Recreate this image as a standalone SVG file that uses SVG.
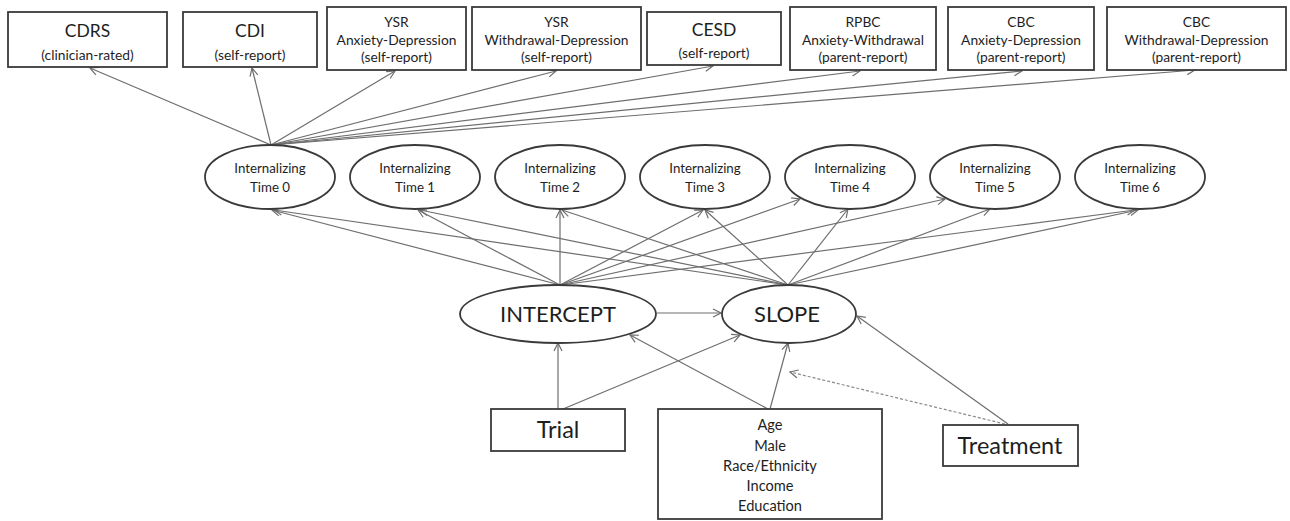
<svg xmlns="http://www.w3.org/2000/svg" width="1290" height="521" viewBox="0 0 1290 521">
<style>
text{font-family:Lato,"Liberation Sans",sans-serif;fill:#1e1e1e;text-anchor:middle}
.box{fill:#fff;stroke:#3a3a3a;stroke-width:1.8}
.ell{fill:#fff;stroke:#3a3a3a;stroke-width:1.8}
.t17{font-size:17.5px}
.t13{font-size:13.8px}
.t12{font-size:13.3px}
.big{font-size:22px}
.big2{font-size:23.5px}
.demo{font-size:14.6px}
#connectors line{stroke:#6e6e6e;stroke-width:1.2;fill:none;marker-end:url(#arr)}
#connectors line.dash{stroke-dasharray:3 2;stroke:#8a8a8a}
</style>
<defs>
<marker id="arr" markerUnits="userSpaceOnUse" markerWidth="10" markerHeight="10" viewBox="0 0 10 10" refX="9" refY="5" orient="auto">
<path d="M1,1 L9,5 L1,9" fill="none" stroke="#6e6e6e" stroke-width="1.2"/>
</marker>
</defs>
<rect width="1290" height="521" fill="#fff"/>

<g id="connectors">
<line x1="271" y1="145" x2="90" y2="68"/>
<line x1="271" y1="145" x2="252" y2="68"/>
<line x1="271" y1="145" x2="395" y2="71"/>
<line x1="271" y1="145" x2="556" y2="71"/>
<line x1="271" y1="145" x2="713" y2="66"/>
<line x1="271" y1="145" x2="860" y2="71"/>
<line x1="271" y1="145" x2="1022" y2="71"/>
<line x1="271" y1="145" x2="1195" y2="70"/>
<line x1="560" y1="285" x2="272" y2="210"/>
<line x1="560" y1="285" x2="418" y2="210"/>
<line x1="560" y1="285" x2="560" y2="210"/>
<line x1="560" y1="285" x2="703" y2="210"/>
<line x1="560" y1="285" x2="800" y2="199"/>
<line x1="560" y1="285" x2="945" y2="199"/>
<line x1="560" y1="285" x2="1135" y2="210"/>
<line x1="788" y1="285" x2="274" y2="210"/>
<line x1="788" y1="285" x2="420" y2="210"/>
<line x1="788" y1="285" x2="562" y2="210"/>
<line x1="788" y1="285" x2="705" y2="210"/>
<line x1="788" y1="285" x2="848" y2="209"/>
<line x1="788" y1="285" x2="990" y2="209"/>
<line x1="788" y1="285" x2="1138" y2="210"/>
<line x1="657" y1="313" x2="721" y2="313"/>
<line x1="558" y1="409" x2="558" y2="343"/>
<line x1="563" y1="409" x2="740" y2="335"/>
<line x1="768" y1="409" x2="630" y2="335"/>
<line x1="770" y1="409" x2="788" y2="343"/>
<line x1="1008" y1="424" x2="857" y2="316"/>
<line class="dash" x1="1005" y1="424" x2="790" y2="372"/>
</g>

<g id="cdrs"><rect class="box" x="8" y="12" width="159" height="55"/><text class="t17" x="87.5" y="37">CDRS</text><text class="t13" x="87.5" y="60">(clinician-rated)</text></g>
<g id="cdi"><rect class="box" x="183" y="12" width="134" height="55"/><text class="t17" x="250" y="37">CDI</text><text class="t13" x="250" y="60">(self-report)</text></g>
<g id="ysr-ad"><rect class="box" x="327" y="7" width="139" height="63"/><text class="t13" x="396.5" y="27">YSR</text><text class="t13" x="396.5" y="45">Anxiety-Depression</text><text class="t13" x="396.5" y="62">(self-report)</text></g>
<g id="ysr-wd"><rect class="box" x="472" y="7" width="169" height="63"/><text class="t13" x="556.5" y="27">YSR</text><text class="t13" x="556.5" y="45">Withdrawal-Depression</text><text class="t13" x="556.5" y="62">(self-report)</text></g>
<g id="cesd"><rect class="box" x="647" y="12" width="134" height="53"/><text class="t17" x="714" y="36">CESD</text><text class="t13" x="714" y="58">(self-report)</text></g>
<g id="rpbc"><rect class="box" x="790" y="7" width="146" height="63"/><text class="t13" x="863" y="27">RPBC</text><text class="t13" x="863" y="45">Anxiety-Withdrawal</text><text class="t13" x="863" y="62">(parent-report)</text></g>
<g id="cbc-ad"><rect class="box" x="948" y="7" width="146" height="63"/><text class="t13" x="1021" y="27">CBC</text><text class="t13" x="1021" y="45">Anxiety-Depression</text><text class="t13" x="1021" y="62">(parent-report)</text></g>
<g id="cbc-wd"><rect class="box" x="1107" y="7" width="179" height="63"/><text class="t13" x="1196.5" y="27">CBC</text><text class="t13" x="1196.5" y="45">Withdrawal-Depression</text><text class="t13" x="1196.5" y="62">(parent-report)</text></g>

<g id="time0"><ellipse class="ell" cx="270" cy="177" rx="65" ry="32"/><text class="t12" x="270" y="173">Internalizing</text><text class="t12" x="270" y="192">Time 0</text></g>
<g id="time1"><ellipse class="ell" cx="415" cy="177" rx="65" ry="32"/><text class="t12" x="415" y="173">Internalizing</text><text class="t12" x="415" y="192">Time 1</text></g>
<g id="time2"><ellipse class="ell" cx="560" cy="177" rx="65" ry="32"/><text class="t12" x="560" y="173">Internalizing</text><text class="t12" x="560" y="192">Time 2</text></g>
<g id="time3"><ellipse class="ell" cx="705" cy="177" rx="65" ry="32"/><text class="t12" x="705" y="173">Internalizing</text><text class="t12" x="705" y="192">Time 3</text></g>
<g id="time4"><ellipse class="ell" cx="850" cy="177" rx="65" ry="32"/><text class="t12" x="850" y="173">Internalizing</text><text class="t12" x="850" y="192">Time 4</text></g>
<g id="time5"><ellipse class="ell" cx="995" cy="177" rx="65" ry="32"/><text class="t12" x="995" y="173">Internalizing</text><text class="t12" x="995" y="192">Time 5</text></g>
<g id="time6"><ellipse class="ell" cx="1140" cy="177" rx="65" ry="32"/><text class="t12" x="1140" y="173">Internalizing</text><text class="t12" x="1140" y="192">Time 6</text></g>

<g id="intercept"><ellipse class="ell" cx="558" cy="314" rx="98" ry="29"/><text class="big" x="558" y="322">INTERCEPT</text></g>
<g id="slope"><ellipse class="ell" cx="789" cy="314" rx="67" ry="29"/><text class="big" x="787" y="322">SLOPE</text></g>

<g id="trial"><rect class="box" x="491" y="409" width="134" height="42"/><text class="big2" x="558" y="438">Trial</text></g>
<g id="demographics"><rect class="box" x="658" y="409" width="224" height="110"/><text class="demo" x="770" y="430">Age</text><text class="demo" x="770" y="451">Male</text><text class="demo" x="770" y="471">Race/Ethnicity</text><text class="demo" x="770" y="491">Income</text><text class="demo" x="770" y="511">Education</text></g>
<g id="treatment"><rect class="box" x="943" y="425" width="135" height="41"/><text class="big2" x="1010" y="454">Treatment</text></g>
</svg>
